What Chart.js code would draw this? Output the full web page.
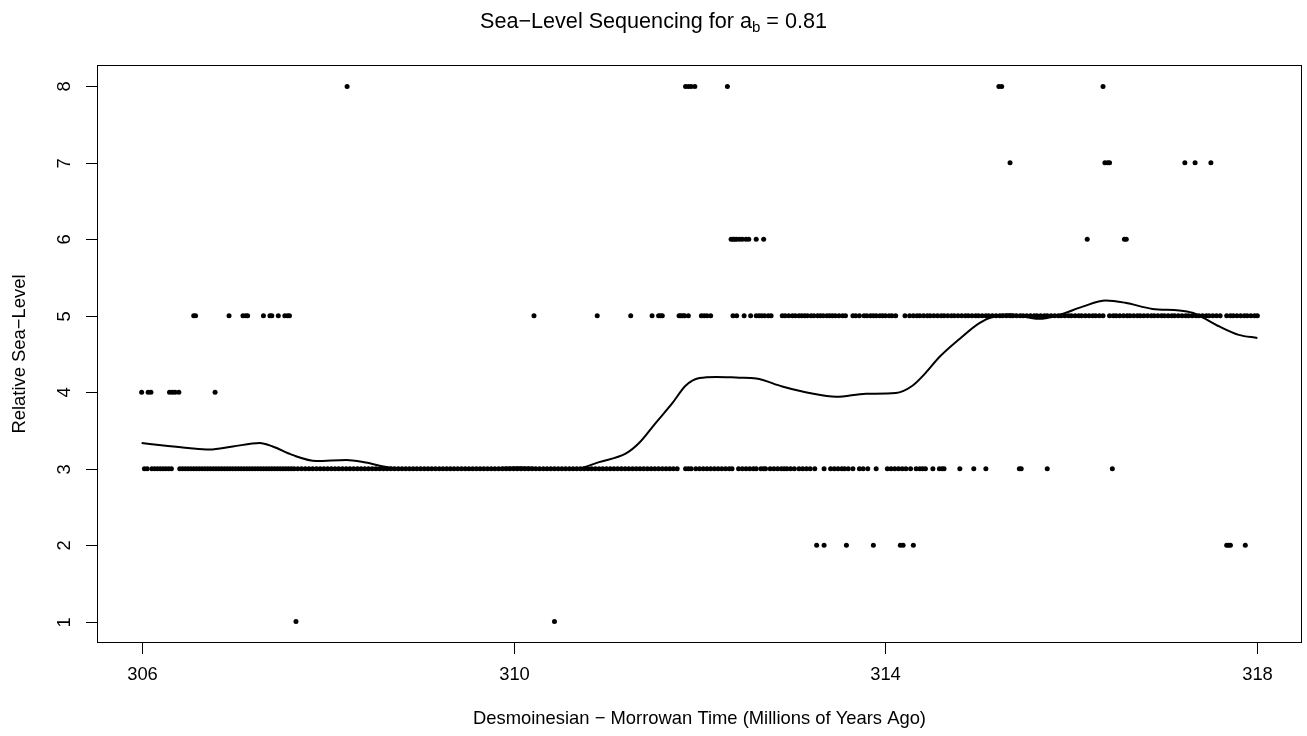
<!DOCTYPE html>
<html>
<head>
<meta charset="utf-8">
<script src="https://cdn.jsdelivr.net/npm/chart.js@4"></script>
<style>
  html, body { margin: 0; padding: 0; background: #fff; }
  canvas { display: block; }
</style>
</head>
<body>
<canvas id="seaLevel" width="1307" height="736"></canvas>
<script>
// Axis tick values
const xTicks = [306, 310, 314, 318];
const yTicks = [1, 2, 3, 4, 5, 6, 7, 8];

// Sample ages (Ma) grouped by their relative sea-level code
const level1Ages = [307.66, 310.44];
const level2Ages = [313.26, 313.34, 313.58, 313.87, 314.16, 314.19, 314.30, 317.67, 317.69, 317.71, 317.87];
const level3Ages = [
  306.03, 306.06, 306.11, 306.14, 306.17, 306.20, 306.23, 306.26, 306.29, 306.32,
  306.41, 306.44, 306.47, 306.50, 306.53, 306.56,
  306.59, 306.62, 306.65, 306.68, 306.71, 306.74, 306.77, 306.80, 306.83, 306.86, 306.89, 306.92, 306.95, 306.98, 307.01, 307.04, 307.07, 307.10,
  307.13, 307.16, 307.19, 307.22, 307.25, 307.28, 307.31, 307.34, 307.37, 307.40, 307.43, 307.46, 307.49, 307.52, 307.55, 307.58, 307.61, 307.64,
  307.68, 307.72, 307.76, 307.80, 307.84, 307.88, 307.92, 307.96, 308.00, 308.04, 308.08, 308.12, 308.16, 308.20, 308.24, 308.28, 308.32, 308.36,
  308.40, 308.44, 308.48, 308.52, 308.56, 308.60, 308.64, 308.68, 308.72, 308.76, 308.80, 308.84, 308.88, 308.92, 308.96, 309.00, 309.04, 309.08,
  309.12, 309.16, 309.20, 309.24, 309.28, 309.32, 309.36, 309.40, 309.44, 309.48, 309.52, 309.56, 309.60, 309.64, 309.68, 309.72, 309.76, 309.80,
  309.84, 309.88, 309.92, 309.96, 310.00, 310.04, 310.08, 310.12, 310.16, 310.20, 310.24, 310.28, 310.32, 310.36, 310.40, 310.44, 310.48, 310.52,
  310.56, 310.60, 310.64, 310.68, 310.72, 310.76, 310.80, 310.84, 310.88, 310.92, 310.96, 311.00, 311.04, 311.08, 311.12, 311.16, 311.20, 311.24,
  311.28, 311.32, 311.36, 311.40, 311.44, 311.48, 311.52, 311.56, 311.60, 311.64, 311.68, 311.72, 311.76,
  311.85, 311.88, 311.91, 311.96, 312.00, 312.04, 312.08, 312.12, 312.16, 312.20, 312.24, 312.28, 312.32, 312.35,
  312.42, 312.46, 312.50, 312.54, 312.58, 312.61, 312.66, 312.69, 312.71, 312.76, 312.80, 312.84, 312.88, 312.91,
  312.94, 312.98, 313.02, 313.07, 313.11, 313.15, 313.19, 313.24, 313.34, 313.41, 313.45, 313.49, 313.53, 313.56,
  313.60, 313.65, 313.72, 313.76, 313.81, 313.90, 314.02, 314.06, 314.10, 314.14, 314.18, 314.22, 314.27,
  314.33, 314.37, 314.40, 314.43, 314.51, 314.58, 314.61, 314.63, 314.80, 314.95, 315.08, 315.44, 315.46, 315.74, 316.44
];
const level4Ages = [306.00, 306.07, 306.10, 306.30, 306.33, 306.36, 306.40, 306.79];
const level5Ages = [
  306.56, 306.58, 306.94, 307.09, 307.12, 307.14, 307.31, 307.38, 307.40, 307.47, 307.54, 307.57, 307.59,
  310.22, 310.90, 311.26, 311.49, 311.56, 311.58, 311.60, 311.78, 311.80, 311.82, 311.84, 311.88,
  312.02, 312.05, 312.08, 312.12, 312.36, 312.40, 312.48, 312.55, 312.61, 312.64, 312.67, 312.70, 312.74, 312.77,
  312.89, 312.92, 312.96, 313.00, 313.03, 313.07, 313.10, 313.13, 313.16,
  313.20, 313.23, 313.27, 313.30, 313.33, 313.37, 313.40, 313.43, 313.46, 313.50, 313.54, 313.57,
  313.65, 313.68, 313.72, 313.77, 313.80, 313.84, 313.87, 313.90, 313.94, 313.97, 314.00, 314.04, 314.07, 314.11, 314.21,
  314.26, 314.30, 314.34, 314.37, 314.41, 314.45, 314.48, 314.52, 314.56, 314.60, 314.63, 314.67, 314.71, 314.74, 314.78,
  314.82, 314.86, 314.89, 314.93, 314.97, 315.00, 315.04, 315.08, 315.11, 315.15, 315.19, 315.23, 315.26, 315.30, 315.34,
  315.37, 315.41, 315.45, 315.48, 315.52, 315.56, 315.60, 315.63, 315.67, 315.71, 315.74, 315.78, 315.82, 315.86, 315.89,
  315.93, 315.97, 316.00, 316.04, 316.08, 316.11, 316.15, 316.19, 316.23, 316.26, 316.30, 316.34, 316.41, 316.45, 316.48,
  316.52, 316.56, 316.60, 316.63, 316.67, 316.71, 316.74, 316.78, 316.82, 316.86, 316.89, 316.93, 316.97, 317.00, 317.04,
  317.08, 317.11, 317.15, 317.19, 317.23, 317.26, 317.30, 317.34, 317.37, 317.41, 317.45, 317.48, 317.52, 317.56, 317.60,
  317.67, 317.71, 317.74, 317.78, 317.82, 317.86, 317.89, 317.93, 317.97, 318.00
];
const level6Ages = [312.34, 312.36, 312.38, 312.40, 312.43, 312.46, 312.50, 312.53, 312.61, 312.69, 316.17, 316.57, 316.59];
const level7Ages = [315.34, 316.36, 316.39, 316.41, 317.22, 317.33, 317.50];
const level8Ages = [308.21, 311.85, 311.88, 311.91, 311.95, 312.30, 315.22, 315.25, 316.34];

// Smoothed sea-level trend
const trendAges = [
  306.00, 306.26, 306.50, 306.73, 306.98, 307.27, 307.41, 307.62, 307.88, 308.20,
  308.41, 308.66, 309.00, 309.50, 309.85, 310.05, 310.25, 310.67, 310.92, 311.21,
  311.35, 311.53, 311.71, 311.85, 312.00, 312.18, 312.43, 312.61, 312.89, 313.18,
  313.47, 313.79, 314.11, 314.29, 314.43, 314.58, 314.79, 315.01, 315.19, 315.33,
  315.65, 315.87, 316.12, 316.37, 316.58, 316.87, 317.16, 317.30, 317.41, 317.59,
  317.80, 318.00
];
const trendLevels = [
  3.335, 3.30, 3.27, 3.25, 3.29, 3.335, 3.29, 3.18, 3.10, 3.115,
  3.08, 3.015, 3.00, 3.00, 3.01, 3.02, 3.01, 3.00, 3.086, 3.20,
  3.335, 3.60, 3.86, 4.085, 4.185, 4.20, 4.19, 4.18, 4.075, 3.99,
  3.94, 3.98, 3.99, 4.085, 4.25, 4.46, 4.69, 4.905, 5.00, 5.02,
  4.96, 5.01, 5.12, 5.20, 5.17, 5.09, 5.07, 5.04, 4.98, 4.86,
  4.75, 4.71
];

const FONT = '"Liberation Sans", Arial, Helvetica, sans-serif';

function atLevel(ages, level) {
  return ages.map(a => ({ x: a, y: level }));
}

const observations = [].concat(
  atLevel(level1Ages, 1), atLevel(level2Ages, 2), atLevel(level3Ages, 3), atLevel(level4Ages, 4),
  atLevel(level5Ages, 5), atLevel(level6Ages, 6), atLevel(level7Ages, 7), atLevel(level8Ages, 8)
);
const trend = trendAges.map((a, i) => ({ x: a, y: trendLevels[i] }));

// Box, ticks, labels and titles in base-graphics style
const frameAndText = {
  id: 'frameAndText',
  afterDraw(chart) {
    const { ctx, chartArea: a, scales: { x, y } } = chart;
    ctx.save();
    ctx.strokeStyle = '#000';
    ctx.fillStyle = '#000';
    ctx.lineWidth = 1;

    // plot box
    ctx.strokeRect(a.left + 0.5, a.top + 0.5, a.right - a.left - 1, a.bottom - a.top - 1);

    // x ticks and labels
    ctx.font = '18.4px ' + FONT;
    ctx.textAlign = 'center';
    ctx.textBaseline = 'alphabetic';
    x.ticks.forEach(t => {
      const px = Math.round(x.getPixelForValue(t.value)) + 0.5;
      ctx.beginPath();
      ctx.moveTo(px, a.bottom);
      ctx.lineTo(px, a.bottom + 11);
      ctx.stroke();
      ctx.fillText(String(t.value), px, 680);
    });

    // y ticks and rotated labels
    y.ticks.forEach(t => {
      const py = Math.round(y.getPixelForValue(t.value)) + 0.5;
      ctx.beginPath();
      ctx.moveTo(a.left - 11, py);
      ctx.lineTo(a.left, py);
      ctx.stroke();
      ctx.save();
      ctx.translate(70, py);
      ctx.rotate(-Math.PI / 2);
      ctx.fillText(String(t.value), 0, 0);
      ctx.restore();
    });

    // axis titles
    const cx = (a.left + a.right) / 2;
    ctx.fillText('Desmoinesian \u2212 Morrowan Time (Millions of Years Ago)', cx, 724);
    ctx.save();
    ctx.translate(25, (a.top + a.bottom) / 2);
    ctx.rotate(-Math.PI / 2);
    ctx.fillText('Relative Sea\u2212Level', 0, 0);
    ctx.restore();

    // main title with subscript
    const head = 'Sea\u2212Level Sequencing for a';
    const sub = 'b';
    const tail = ' = 0.81';
    ctx.textAlign = 'left';
    ctx.font = '21.6px ' + FONT;
    const w1 = ctx.measureText(head).width;
    const w3 = ctx.measureText(tail).width;
    ctx.font = '15.1px ' + FONT;
    const w2 = ctx.measureText(sub).width;
    let sx = chart.width / 2 - (w1 + w2 + w3) / 2;
    const base = 28;
    ctx.font = '21.6px ' + FONT;
    ctx.fillText(head, sx, base);
    sx += w1;
    ctx.font = '15.1px ' + FONT;
    ctx.fillText(sub, sx, base + 4);
    sx += w2;
    ctx.font = '21.6px ' + FONT;
    ctx.fillText(tail, sx, base);
    ctx.restore();
  }
};

new Chart(document.getElementById('seaLevel'), {
  type: 'scatter',
  data: {
    datasets: [
      {
        type: 'line',
        label: 'trend',
        data: trend,
        showLine: true,
        borderColor: '#000',
        borderWidth: 2,
        pointRadius: 0,
        fill: false,
        cubicInterpolationMode: 'monotone',
        order: 0
      },
      {
        label: 'samples',
        data: observations,
        pointRadius: 2.5,
        pointHoverRadius: 2.5,
        pointBackgroundColor: '#000',
        pointBorderWidth: 0,
        order: 1
      }
    ]
  },
  options: {
    responsive: false,
    animation: false,
    devicePixelRatio: 1,
    events: [],
    layout: { padding: { top: 65, right: 5, left: 0, bottom: 0 } },
    plugins: { legend: { display: false }, tooltip: { enabled: false }, title: { display: false } },
    scales: {
      x: {
        type: 'linear',
        min: 305.52,
        max: 318.48,
        afterBuildTicks: s => { s.ticks = xTicks.map(v => ({ value: v })); },
        afterFit: s => { s.height = 93; },
        grid: { display: false },
        border: { display: false },
        ticks: { display: false }
      },
      y: {
        type: 'linear',
        min: 0.72,
        max: 8.28,
        afterBuildTicks: s => { s.ticks = yTicks.map(v => ({ value: v })); },
        afterFit: s => { s.width = 97; },
        grid: { display: false },
        border: { display: false },
        ticks: { display: false }
      }
    }
  },
  plugins: [frameAndText]
});
</script>
</body>
</html>
